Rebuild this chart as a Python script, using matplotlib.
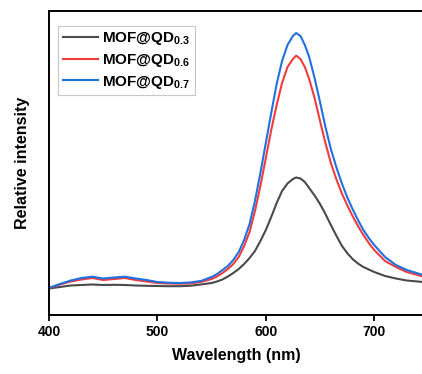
import numpy as np
import matplotlib
matplotlib.use('Agg')
import matplotlib.pyplot as plt

plt.rcParams['font.family'] = ['Liberation Sans', 'DejaVu Sans']
plt.rcParams['font.weight'] = 'bold'
plt.rcParams['mathtext.fontset'] = 'custom'
plt.rcParams['mathtext.rm'] = 'Liberation Sans:bold'
plt.rcParams['mathtext.bf'] = 'Liberation Sans:bold'

# wavelength (nm) and relative intensity
wavelength = [400, 410, 420, 430, 440, 450, 460, 470, 480, 490, 500, 510, 520, 530,
              540, 550, 555, 560, 565, 570, 575, 580, 585, 590, 595, 600, 605, 610,
              615, 620, 625, 628, 632, 636, 640, 645, 650, 655, 660, 665, 670, 675,
              680, 685, 690, 695, 700, 710, 720, 730, 745]

qd_03 = [26.5, 28, 29.5, 30, 30.5, 30, 30.2, 30, 29.5, 29.2, 29, 28.8, 28.8, 29.2,
         30.5, 32, 33.5, 35.5, 38.5, 42, 46, 51, 57, 64, 74, 85, 98, 112,
         124, 131.5, 136, 137.5, 136.5, 133, 127, 119.5, 111, 101, 90, 79.5, 69.5, 62,
         56, 51.5, 48, 45.5, 43, 39, 36.5, 34.5, 33]

qd_06 = [27, 30.5, 33.5, 35.5, 37, 35, 36, 37, 35, 33.5, 32, 31.5, 31.3, 31.5,
         33, 36, 38.5, 42, 46, 51, 58, 69, 83, 104, 129, 157, 185, 210,
         232, 248, 256, 259.3, 256, 248, 236, 217, 194, 172, 152, 136, 122, 110,
         99, 89, 80, 72, 65, 54, 48, 43, 38.5]

qd_07 = [27, 31, 34.5, 37, 38.3, 36.5, 37.5, 38.3, 36.5, 35, 33, 32.3, 32, 32.5,
         34, 38, 41, 45, 49, 55, 63, 75, 91, 114, 142, 172, 202, 231,
         254, 270, 279, 282, 279, 270, 258, 237, 213, 188, 166, 148, 132, 118,
         106, 95, 85, 77, 70, 58, 50, 45, 40]

labels = ['MOF@QD$_{\\mathbf{0.3}}$', 'MOF@QD$_{\\mathbf{0.6}}$', 'MOF@QD$_{\\mathbf{0.7}}$']
colors = ['#4a4a4a', '#f03c3c', '#2070e0']

fig = plt.figure(figsize=(4.22, 3.74), dpi=100)
ax = fig.add_axes([49 / 422, 59 / 374, 374 / 422, 304 / 374])

for ys, lab, c in zip([qd_03, qd_06, qd_07], labels, colors):
    ax.plot(wavelength, ys, color=c, lw=1.5, label=lab)

ax.set_xlim(400, 745)
ax.set_ylim(0, 304)
ax.set_xticks([400, 500, 600, 700])
ax.set_yticks([])
ax.tick_params(axis='x', direction='out', length=4.5, width=1.3, labelsize=10, pad=3)
for lbl in ax.get_xticklabels():
    lbl.set_fontweight('bold')
for s in ax.spines.values():
    s.set_linewidth(1.4)
ax.spines['right'].set_visible(False)

ax.set_xlabel('Wavelength (nm)', fontsize=11.5, fontweight='bold', labelpad=6)
ax.set_ylabel('Relative intensity', fontsize=11.5, fontweight='bold', labelpad=14)

leg = ax.legend(loc='upper left', bbox_to_anchor=(0.024, 0.951), borderaxespad=0,
                fancybox=False, edgecolor='#c8c8c8', framealpha=1,
                prop={'size': 11, 'weight': 'bold'}, handlelength=2.3,
                handletextpad=0.3, labelspacing=0.3, borderpad=0.3)
leg.get_frame().set_linewidth(0.8)

plt.savefig('out.png', dpi=100)
